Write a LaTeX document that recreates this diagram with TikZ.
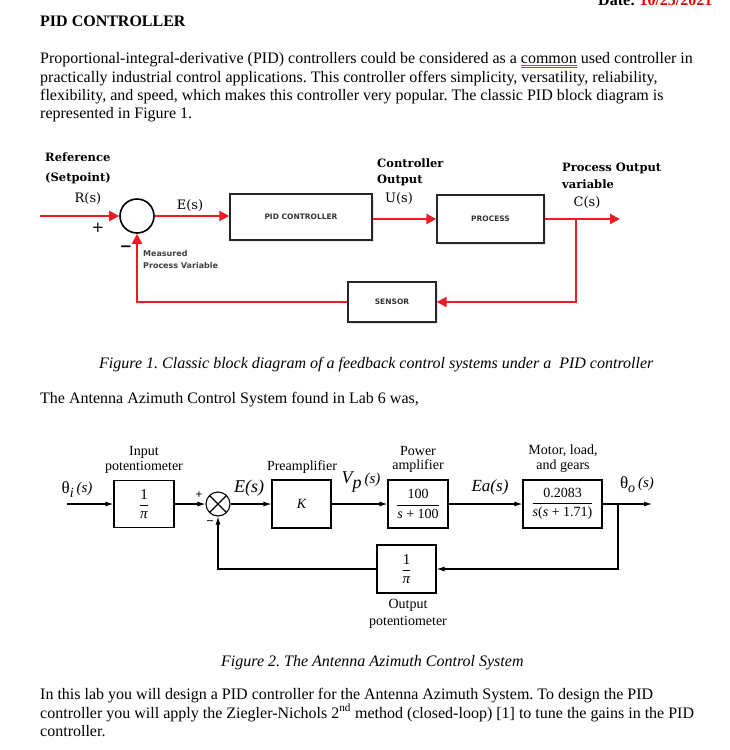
\documentclass[tikz,border=0pt]{standalone}
\usepackage{fontspec}
\usepackage{amsmath}
\setmainfont{Liberation Serif}
\newfontfamily\dvsans{DejaVu Sans}
\newfontfamily\dvserif{DejaVu Serif}
\usetikzlibrary{arrows.meta,shadows}
\definecolor{pidred}{RGB}{236,28,36}
\definecolor{datered}{RGB}{235,0,0}
\definecolor{ulblue}{RGB}{60,100,220}
\frenchspacing
\newcommand\spellul[1]{\setbox0\hbox{#1}\rlap{\color{ulblue}\rule[-2.6pt]{\wd0}{0.6pt}}\rlap{\color{ulblue}\rule[-4.4pt]{\wd0}{0.6pt}}#1}
\newcommand\blkfrac[2]{$\dfrac{\text{#1}}{\text{#2}}$}
\tikzset{
  body/.style={anchor=base west, inner sep=0pt, font=\fontsize{16}{19}\selectfont},
  bodyit/.style={body, font=\fontsize{16}{19}\selectfont\itshape},
  redline/.style={draw=pidred, line width=2.2pt},
  redarrow/.style={redline, -{Triangle[length=10pt,width=10pt]}},
  pidbox/.style={draw=black!85, line width=1.4pt, fill=white, inner sep=0pt,
     drop shadow={shadow xshift=1.5pt, shadow yshift=-1.5pt, opacity=0.2}},
  boxtext/.style={font=\dvsans\bfseries\fontsize{7.5}{9}\selectfont, text=black!80},
  flabel/.style={anchor=base west, inner sep=0pt, font=\dvserif\bfseries\fontsize{11.5}{14}\selectfont},
  sig/.style={inner sep=0pt, font=\dvserif\fontsize{13}{15}\selectfont},
  mvlabel/.style={anchor=base west, inner sep=0pt, font=\dvsans\bfseries\fontsize{8}{10}\selectfont, text=black!75},
  blk/.style={draw, line width=1.1pt, inner sep=0pt, fill=white},
  barrow/.style={draw, line width=1.1pt, -{Latex[length=8pt,width=5pt]}},
  tlabel/.style={inner sep=0pt, font=\fontsize{14}{15}\selectfont},
  ilabel/.style={inner sep=0pt, font=\fontsize{17}{18}\selectfont\itshape},
}
\begin{document}
\begin{tikzpicture}[x=1pt,y=-1pt]
\useasboundingbox (0,0) rectangle (730,750);
\fill[white] (0,0) rectangle (730,750);
\clip (0,0) rectangle (730,750);

% header
\node[body, font=\fontsize{16}{19}\selectfont\bfseries] (date) at (598,5) {Date: \textcolor{datered}{10/25/2021}};
\node[body, font=\fontsize{16}{19}\selectfont\bfseries] (title) at (40,26) {PID CONTROLLER};
\node[body] (p1) at (40,63) {Proportional-integral-derivative (PID) controllers could be considered as a \spellul{common} used controller in};
\node[body] (p2) at (40,82) {practically industrial control applications. This controller offers simplicity, versatility, reliability,};
\node[body] (p3) at (40,100) {flexibility, and speed, which makes this controller very popular. The classic PID block diagram is};
\node[body] (p4) at (40,118) {represented in Figure 1.};

% ---------- Figure 1 ----------
\node[flabel] (ref1) at (45,161) {Reference};
\node[flabel] (ref2) at (45,181) {(Setpoint)};
\node[sig] (rs) at (88,199) {R(s)};
\node[inner sep=0pt, font=\dvsans\fontsize{15}{15}\selectfont] (plus1) at (98,228) {+};
\node[inner sep=0pt, font=\dvsans\bfseries\fontsize{15}{15}\selectfont] (minus1) at (126,249) {−};
\node[sig] (es) at (190,206) {E(s)};
\node[flabel] (co1) at (377,167) {Controller};
\node[flabel] (co2) at (377,183) {Output};
\node[sig] (us) at (399,199) {U(s)};
\node[flabel] (po1) at (562,171) {Process Output};
\node[flabel] (po2) at (562,188) {variable};
\node[sig] (cs) at (587,203) {C(s)};
\node[mvlabel] (mv1) at (143,256) {Measured};
\node[mvlabel] (mv2) at (143,268) {Process Variable};

\node[draw=black, circle, line width=1.6pt, minimum size=34pt, inner sep=0pt] (sum1) at (137,216) {};
\node[pidbox, minimum width=142pt, minimum height=46pt, boxtext] (pid) at (301,217) {PID CONTROLLER};
\node[pidbox, minimum width=107pt, minimum height=48pt, boxtext] (proc) at (490.5,219) {PROCESS};
\node[pidbox, minimum width=88pt, minimum height=40pt, boxtext] (sens) at (392,302) {SENSOR};
\coordinate (rin) at (40,216);
\coordinate (cout) at (620,219);
\coordinate (br1) at (576,219);

\draw[redarrow] (rin) -- (sum1.west);
\draw[redarrow] (sum1.east) -- (sum1.east -| pid.west);
\draw[redarrow] (pid.east |- proc.west) -- (proc.west);
\draw[redarrow] (proc.east) -- (cout);
\draw[redarrow] (br1) |- (sens.east);
\draw[redarrow] (sens.west) -| (sum1.south);

\node[bodyit] (cap1) at (99,368) {Figure 1. Classic block diagram of a feedback control systems under a\ \ PID controller};
\node[body] (p5) at (40,403) {The Antenna Azimuth Control System found in Lab 6 was,};

% ---------- Figure 2 ----------
\node[tlabel] (ip1) at (144,452) {Input};
\node[tlabel] (ip2) at (144,467) {potentiometer};
\node[inner sep=0pt, font=\fontsize{17}{18}\selectfont] (thi) at (77,490) {θ\raisebox{-4pt}{\fontsize{14}{14}\selectfont\textit{i}}\,\raisebox{1pt}{\fontsize{15}{15}\selectfont\textit{(s)}}};
\node[inner sep=0pt, font=\fontsize{12}{12}\selectfont\bfseries] (plus2) at (199,495) {+};
\node[inner sep=0pt, font=\fontsize{13}{13}\selectfont\bfseries] (minus2) at (210,523) {−};
\node[ilabel, font=\fontsize{18}{18}\selectfont\itshape] (e2) at (249,488) {E(s)};
\node[tlabel] (prel) at (302,467) {Preamplifier};
\node[inner sep=0pt, font=\fontsize{18}{18}\selectfont\itshape] (vp) at (361,482) {V\raisebox{-5pt}{p}\,\fontsize{15}{15}\selectfont(s)};
\node[tlabel] (pa1) at (418,451) {Power};
\node[tlabel] (pa2) at (418,466) {amplifier};
\node[ilabel] (ea) at (490,487) {Ea(s)};
\node[tlabel] (ml1) at (563,451) {Motor, load,};
\node[tlabel] (ml2) at (563,466) {and gears};
\node[inner sep=0pt, font=\fontsize{17}{18}\selectfont] (tho) at (637,485) {θ\raisebox{-4pt}{\fontsize{14}{14}\selectfont\textit{o}}\,\raisebox{1pt}{\fontsize{15}{15}\selectfont\textit{(s)}}};
\node[tlabel] (op1) at (408,605) {Output};
\node[tlabel] (op2) at (408,622) {potentiometer};

\node[blk, minimum width=60pt, minimum height=47pt, font=\fontsize{15}{16}\selectfont] (ipot) at (144,504) {\blkfrac{1}{\textit{π}}};
\node[draw, circle, line width=1.1pt, minimum size=24pt, inner sep=0pt,
  path picture={\draw[line width=1.1pt] (path picture bounding box.north west) -- (path picture bounding box.south east)
     (path picture bounding box.north east) -- (path picture bounding box.south west);}] (sum2) at (218,504) {};
\node[blk, minimum width=59pt, minimum height=48pt, font=\fontsize{14}{15}\selectfont\itshape] (pre) at (301.5,504) {K};
\node[blk, minimum width=60pt, minimum height=48pt, font=\fontsize{14}{15}\selectfont] (pamp) at (418,504) {\blkfrac{100}{\textit{s} + 100}};
\node[blk, minimum width=79pt, minimum height=48pt, font=\fontsize{14}{15}\selectfont] (motor) at (562.5,504) {\blkfrac{0.2083}{\textit{s}(\textit{s} + 1.71)}};
\node[blk, minimum width=59pt, minimum height=48pt, font=\fontsize{15}{16}\selectfont] (fb) at (406.5,569) {\blkfrac{1}{\textit{π}}};
\coordinate (in2) at (67,504);
\coordinate (out2) at (652,504);
\coordinate (br2) at (618,504);

\draw[barrow] (in2) -- (ipot.west);
\draw[barrow] (ipot.east) -- (sum2.west);
\draw[barrow] (sum2.east) -- (pre.west);
\draw[barrow] (pre.east) -- (pamp.west);
\draw[barrow] (pamp.east) -- (motor.west);
\draw[barrow] (motor.east) -- (out2);
\draw[barrow] (br2) |- (fb.east);
\draw[barrow] (fb.west) -| (sum2.south);

\node[bodyit] (cap2) at (221,666) {Figure 2. The Antenna Azimuth Control System};
\node[body] (b1) at (40,699) {In this lab you will design a PID controller for the Antenna Azimuth System. To design the PID};
\node[body] (b2) at (40,718) {controller you will apply the Ziegler-Nichols 2\textsuperscript{nd} method (closed-loop) [1] to tune the gains in the PID};
\node[body] (b3) at (40,736) {controller.};
\end{tikzpicture}
\end{document}
